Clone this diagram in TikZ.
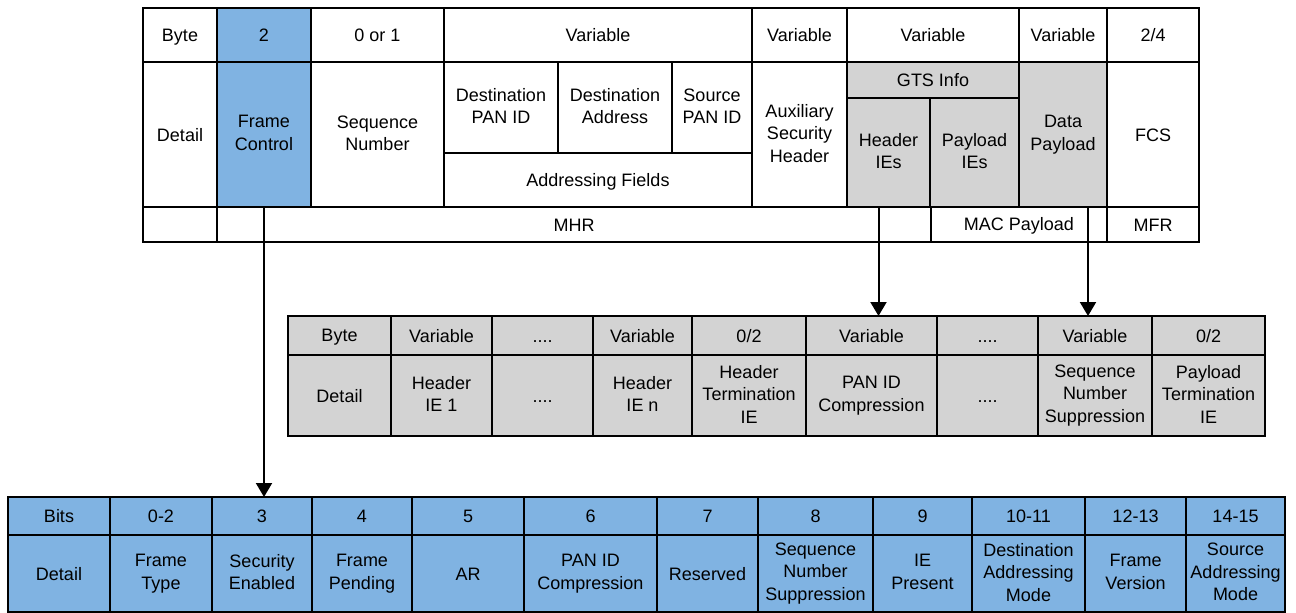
\documentclass[tikz,border=0pt]{standalone}
\usepackage{fontspec}
\setmainfont{Liberation Sans}
\usetikzlibrary{arrows.meta}
\definecolor{cblue}{RGB}{128,179,226}
\definecolor{cgray}{RGB}{211,211,211}
\tikzset{
  cellst/.style={rectangle, draw=black, line width=2pt, inner sep=1pt, outer sep=0pt,
    align=center, font=\fontsize{18}{22.5}\selectfont,
    execute at begin node=\rule{0pt}{16pt}, execute at end node=\rule[-3pt]{0pt}{3pt}},
  arr/.style={line width=2pt, -{Triangle[width=16pt,length=14pt]}}
}
\newcommand\cellbox[7][white]{%
  \pgfmathsetmacro\cbW{#5-#3}\pgfmathsetmacro\cbH{#6-#4}%
  \pgfmathsetmacro\cbX{(#3+#5)/2}\pgfmathsetmacro\cbY{(#4+#6)/2}%
  \node[cellst, fill=#1, minimum width=\cbW pt, minimum height=\cbH pt] (#2) at (\cbX,\cbY) {#7};}
\begin{document}
\begin{tikzpicture}[x=1pt,y=-1pt]
\useasboundingbox (0,0) rectangle (1296,613);
% ---------- top table ----------
\cellbox{tbyte}{143}{8}{217}{62}{Byte}
\cellbox[cblue]{t2}{217}{8}{311}{62}{2}
\cellbox{t01}{311}{8}{444}{62}{0 or 1}
\cellbox{tvar1}{444}{8}{752}{62}{Variable}
\cellbox{tvar2}{752}{8}{847}{62}{Variable}
\cellbox{tvar3}{847}{8}{1019}{62}{Variable}
\cellbox{tvar4}{1019}{8}{1107}{62}{Variable}
\cellbox{t24}{1107}{8}{1199}{62}{2/4}
\cellbox{tdet}{143}{62}{217}{207}{Detail}
\cellbox[cblue]{fc}{217}{62}{311}{207}{Frame\\Control}
\cellbox{sn}{311}{62}{444}{207}{Sequence\\Number}
\cellbox{dpan}{444}{62}{558}{153}{Destination\\PAN ID}
\cellbox{dadr}{558}{62}{672}{153}{Destination\\Address}
\cellbox{span}{672}{62}{752}{153}{Source\\PAN ID}
\cellbox{addr}{444}{153}{752}{207}{Addressing Fields}
\cellbox{aux}{752}{62}{847}{207}{Auxiliary\\Security\\Header}
\cellbox[cgray]{gts}{847}{62}{1019}{98}{GTS Info}
\cellbox[cgray]{hie}{847}{98}{930}{207}{Header\\IEs}
\cellbox[cgray]{pie}{930}{98}{1019}{207}{Payload\\IEs}
\cellbox[cgray]{dp}{1019}{62}{1107}{207}{Data\\Payload}
\cellbox{fcs}{1107}{62}{1199}{207}{FCS}
\cellbox{tblank}{143}{207}{217}{242}{}
\cellbox{mhr}{217}{207}{931}{242}{MHR}
\cellbox{macp}{931}{207}{1107}{242}{MAC Payload}
\cellbox{mfr}{1107}{207}{1199}{242}{MFR}
% ---------- middle table ----------
\cellbox[cgray]{m1h}{288}{316}{391}{355}{Byte}
\cellbox[cgray]{m2h}{391}{316}{492}{355}{Variable}
\cellbox[cgray]{m3h}{492}{316}{593}{355}{....}
\cellbox[cgray]{m4h}{593}{316}{692}{355}{Variable}
\cellbox[cgray]{m5h}{692}{316}{806}{355}{0/2}
\cellbox[cgray]{m6h}{806}{316}{937}{355}{Variable}
\cellbox[cgray]{m7h}{937}{316}{1038}{355}{....}
\cellbox[cgray]{m8h}{1038}{316}{1152}{355}{Variable}
\cellbox[cgray]{m9h}{1152}{316}{1265}{355}{0/2}
\cellbox[cgray]{m1d}{288}{355}{391}{436}{Detail}
\cellbox[cgray]{m2d}{391}{355}{492}{436}{Header\\IE 1}
\cellbox[cgray]{m3d}{492}{355}{593}{436}{....}
\cellbox[cgray]{m4d}{593}{355}{692}{436}{Header\\IE n}
\cellbox[cgray]{m5d}{692}{355}{806}{436}{Header\\Termination\\IE}
\cellbox[cgray]{m6d}{806}{355}{937}{436}{PAN ID\\Compression}
\cellbox[cgray]{m7d}{937}{355}{1038}{436}{....}
\cellbox[cgray]{m8d}{1038}{355}{1152}{436}{Sequence\\Number\\Suppression}
\cellbox[cgray]{m9d}{1152}{355}{1265}{436}{Payload\\Termination\\IE}
% ---------- bottom table ----------
\cellbox[cblue]{b1h}{8}{497}{110}{535}{Bits}
\cellbox[cblue]{b2h}{110}{497}{212}{535}{0-2}
\cellbox[cblue]{b3h}{212}{497}{312}{535}{3}
\cellbox[cblue]{b4h}{312}{497}{412}{535}{4}
\cellbox[cblue]{b5h}{412}{497}{524}{535}{5}
\cellbox[cblue]{b6h}{524}{497}{657}{535}{6}
\cellbox[cblue]{b7h}{657}{497}{758}{535}{7}
\cellbox[cblue]{b8h}{758}{497}{873}{535}{8}
\cellbox[cblue]{b9h}{873}{497}{972}{535}{9}
\cellbox[cblue]{b10h}{972}{497}{1085}{535}{10-11}
\cellbox[cblue]{b11h}{1085}{497}{1186}{535}{12-13}
\cellbox[cblue]{b12h}{1186}{497}{1285}{535}{14-15}
\cellbox[cblue]{b1d}{8}{535}{110}{612}{Detail}
\cellbox[cblue]{b2d}{110}{535}{212}{612}{Frame\\Type}
\cellbox[cblue]{b3d}{212}{535}{312}{612}{Security\\Enabled}
\cellbox[cblue]{b4d}{312}{535}{412}{612}{Frame\\Pending}
\cellbox[cblue]{b5d}{412}{535}{524}{612}{AR}
\cellbox[cblue]{b6d}{524}{535}{657}{612}{PAN ID\\Compression}
\cellbox[cblue]{b7d}{657}{535}{758}{612}{Reserved}
\cellbox[cblue]{b8d}{758}{535}{873}{612}{Sequence\\Number\\Suppression}
\cellbox[cblue]{b9d}{873}{535}{972}{612}{IE\\Present}
\cellbox[cblue]{b10d}{972}{535}{1085}{612}{Destination\\Addressing\\Mode}
\cellbox[cblue]{b11d}{1085}{535}{1186}{612}{Frame\\Version}
\cellbox[cblue]{b12d}{1186}{535}{1285}{612}{Source\\Addressing\\Mode}
% ---------- connectors ----------
\draw[arr] (fc.south) -- (fc.south |- b3h.north);
\draw[arr] ([xshift=-10pt]hie.south) -- ([xshift=-10pt]hie.south |- m6h.north);
\draw[arr] ([xshift=25pt]dp.south) -- ([xshift=25pt]dp.south |- m8h.north);
\end{tikzpicture}
\end{document}
